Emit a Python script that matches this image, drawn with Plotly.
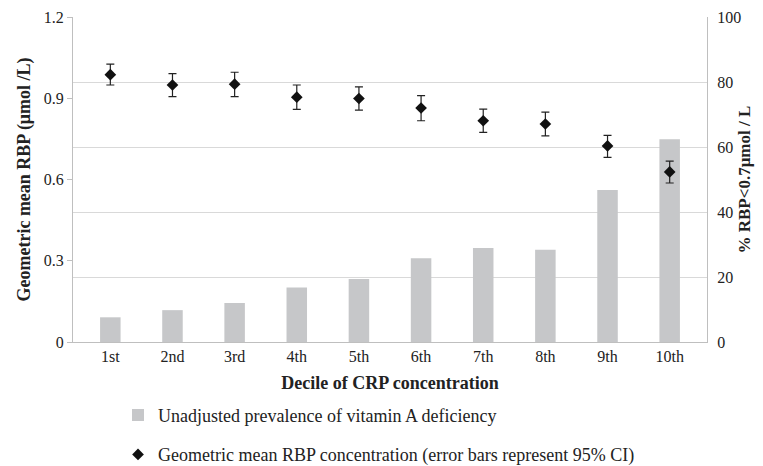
import plotly.graph_objects as go

deciles = ["1st", "2nd", "3rd", "4th", "5th", "6th", "7th", "8th", "9th", "10th"]
prevalence = [7.6, 9.8, 12.0, 16.8, 19.4, 25.8, 28.9, 28.4, 46.8, 62.4]
rbp_mean = [0.987, 0.949, 0.952, 0.904, 0.899, 0.864, 0.817, 0.805, 0.724, 0.628]
rbp_upper = [1.026, 0.991, 0.996, 0.949, 0.942, 0.910, 0.860, 0.849, 0.763, 0.668]
rbp_lower = [0.949, 0.906, 0.906, 0.859, 0.856, 0.817, 0.774, 0.761, 0.682, 0.587]

err_plus = [u - m for u, m in zip(rbp_upper, rbp_mean)]
err_minus = [m - l for m, l in zip(rbp_mean, rbp_lower)]

FONT = "Liberation Serif"

fig = go.Figure()
fig.add_trace(go.Bar(
    x=deciles, y=prevalence, yaxis="y",
    name="Unadjusted prevalence of vitamin A deficiency",
    marker=dict(color="#c6c7c9", line=dict(width=0)),
    legendgroup="a",
))
fig.add_trace(go.Scatter(
    x=deciles, y=rbp_mean, yaxis="y2", mode="markers",
    name="Geometric mean RBP concentration (error bars represent 95% CI)",
    marker=dict(symbol="diamond", size=9, color="#111111"),
    error_y=dict(type="data", array=err_plus, arrayminus=err_minus,
                 color="#222222", thickness=1.2, width=4),
    legendgroup="b",
))

# The page body adds an 8px offset, so the figure is sized 8px smaller.
fig.update_layout(
    width=755, height=458,
    margin=dict(l=65, r=56, t=9, b=124, autoexpand=False),
    paper_bgcolor="white", plot_bgcolor="white",
    font=dict(family=FONT, size=16, color="#222222"),
    bargap=0.67,
    xaxis=dict(
        showline=True, linecolor="#bfbfbf", linewidth=1.2,
        ticks="", tickfont=dict(size=16), automargin=False,
        title=dict(text="<b>Decile of CRP concentration</b>", font=dict(size=18), standoff=12),
    ),
    yaxis=dict(
        side="right", range=[0, 100], dtick=20,
        showgrid=True, gridcolor="#d9d9d9", gridwidth=1,
        showline=True, linecolor="#bfbfbf", linewidth=1.2,
        ticks="outside", ticklen=6, tickcolor="rgba(0,0,0,0)",
        tickfont=dict(size=16), zeroline=False,
        automargin=False,
    ),
    yaxis2=dict(
        overlaying="y", side="left", range=[0, 1.2],
        tickvals=[0, 0.3, 0.6, 0.9, 1.2], ticktext=["0", "0.3", "0.6", "0.9", "1.2"],
        showgrid=False, zeroline=False,
        showline=True, linecolor="#bfbfbf", linewidth=1.2,
        ticks="outside", ticklen=5, tickcolor="#bfbfbf",
        tickfont=dict(size=16),
        title=dict(text="<b>Geometric mean RBP (μmol /L)</b>", font=dict(size=18), standoff=8),
        automargin=False,
    ),
    legend=dict(
        orientation="v", x=0.071, xanchor="left",
        yref="container", y=0.151, yanchor="top",
        font=dict(size=18), tracegroupgap=13, traceorder="grouped",
        itemwidth=30, bgcolor="rgba(0,0,0,0)",
    ),
    annotations=[dict(
        text="<b>% RBP<0.7μmol / L</b>", textangle=-90,
        xref="paper", yref="paper", x=1, xshift=37, y=0.5,
        xanchor="center", yanchor="middle", showarrow=False,
        font=dict(size=17, family=FONT, color="#222222"),
    )],
    showlegend=True,
)

fig.write_html("out.html")
